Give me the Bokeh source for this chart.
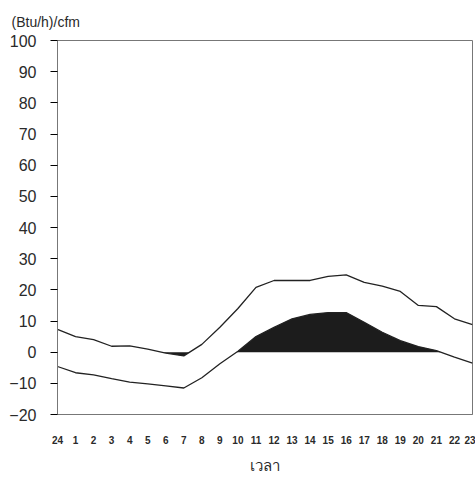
import numpy as np
from bokeh.plotting import figure
from bokeh.models import FixedTicker, Range1d
from bokeh.embed import file_html
from bokeh.resources import INLINE

hours = ["24", "1", "2", "3", "4", "5", "6", "7", "8", "9", "10", "11",
         "12", "13", "14", "15", "16", "17", "18", "19", "20", "21", "22", "23"]
upper = [7.3, 5.0, 4.0, 1.9, 2.0, 1.0, -0.3, -1.2, 2.5, 8.0, 14.0, 20.8,
         23.0, 23.0, 23.0, 24.3, 24.8, 22.4, 21.2, 19.5, 15.0, 14.6, 10.7, 8.8]
lower = [-4.6, -6.6, -7.3, -8.5, -9.6, -10.2, -10.8, -11.5, -8.2, -3.7, 0.3, 5.0,
         8.0, 10.7, 12.1, 12.7, 12.7, 9.6, 6.4, 3.7, 1.8, 0.5, -1.6, -3.5]
y_ticks = [-20, -10, 0, 10, 20, 30, 40, 50, 60, 70, 80, 90, 100]
unit_label = "(Btu/h)/cfm"

x = np.arange(len(hours), dtype=float)


def with_crossings(xs, ys):
    """Insert zero-crossing points so fills meet the zero line exactly."""
    ox, oy = [xs[0]], [ys[0]]
    for i in range(1, len(xs)):
        y0, y1 = ys[i - 1], ys[i]
        if (y0 < 0 < y1) or (y0 > 0 > y1):
            t = y0 / (y0 - y1)
            ox.append(xs[i - 1] + t * (xs[i] - xs[i - 1]))
            oy.append(0.0)
        ox.append(xs[i])
        oy.append(ys[i])
    return np.array(ox), np.array(oy)


p = figure(width=475, height=485, output_backend="svg", toolbar_location=None,
           x_range=Range1d(0, 23), y_range=Range1d(-20, 100),
           min_border_left=57, min_border_right=3, min_border_top=40, min_border_bottom=71)
p.frame_width = 415
p.frame_height = 374

# dark fills: upper line below zero, lower line above zero
ux, uy = with_crossings(x, np.array(upper))
p.varea(x=ux, y1=0, y2=np.minimum(uy, 0), fill_color="#1c1c1c")
lx, ly = with_crossings(x, np.array(lower))
p.varea(x=lx, y1=0, y2=np.maximum(ly, 0), fill_color="#1c1c1c")

p.line(x, upper, line_color="#222222", line_width=1.3)
p.line(x, lower, line_color="#222222", line_width=1.3)

p.xgrid.visible = False
p.ygrid.visible = False
p.background_fill_color = "white"
p.border_fill_color = "white"
p.outline_line_color = "#777777"
p.outline_line_width = 1

# y axis
yax = p.yaxis[0]
yax.ticker = FixedTicker(ticks=y_ticks)
yax.minor_tick_line_color = None
yax.major_tick_out = 7
yax.major_tick_in = 0
yax.major_tick_line_color = "black"
yax.major_tick_line_width = 1.2
yax.axis_line_color = "#777777"
yax.major_label_text_font = "Liberation Sans"
yax.major_label_text_font_size = "16px"
yax.major_label_text_color = "#2a2a2a"
yax.major_label_standoff = 14

# x axis
xax = p.xaxis[0]
xax.ticker = FixedTicker(ticks=list(range(len(hours))))
xax.major_label_overrides = {i: h for i, h in enumerate(hours)}
xax.minor_tick_line_color = None
xax.major_tick_line_color = None
xax.axis_line_color = "#777777"
xax.major_label_text_font = "Liberation Sans"
xax.major_label_text_font_size = "10px"
xax.major_label_text_font_style = "bold"
xax.major_label_text_color = "#2a2a2a"
xax.major_label_standoff = 15
xax.axis_label = "เวลา"
xax.axis_label_text_font = "Noto Sans"
xax.axis_label_text_font_size = "15px"
xax.axis_label_text_font_style = "normal"
xax.axis_label_text_color = "#2a2a2a"
xax.axis_label_standoff = 8

p.title.text = unit_label
p.title.text_font = "Liberation Sans"
p.title.text_font_size = "14px"
p.title.text_font_style = "normal"
p.title.text_color = "#2a2a2a"
p.title.align = "left"
p.title.offset = -46
p.title.standoff = 22

open("out.html", "w").write(file_html(p, INLINE))
